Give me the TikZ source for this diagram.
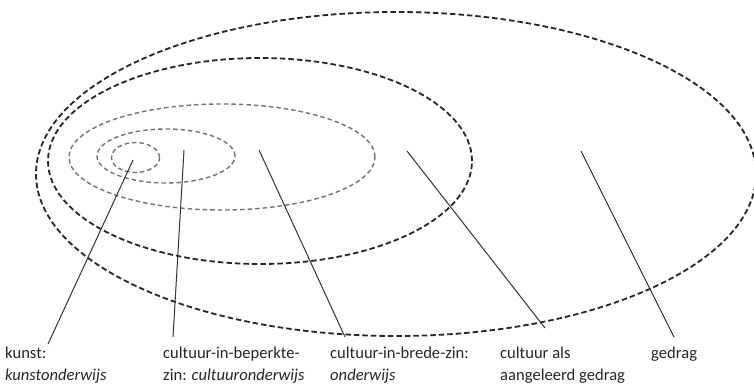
\documentclass[tikz,border=0pt]{standalone}
\usepackage{fontspec}
\setmainfont{Carlito}
\begin{document}
\begin{tikzpicture}[x=1pt,y=-1pt,
  outerring/.style={draw=black!85, line width=1.8pt, dash pattern=on 5.5pt off 3pt},
  innerring/.style={draw=black!55, line width=1.4pt, dash pattern=on 4.5pt off 3pt},
  pointer/.style={draw=black!80, line width=1pt},
  label/.style={anchor=north west, inner sep=0pt, align=left, font=\fontsize{16.6}{22}\selectfont, text=black!85}]
\useasboundingbox (0,0) rectangle (754,388);
\fill[white] (0,0) rectangle (754,388);
% rings
\draw[innerring] (135.5,157.5) ellipse [x radius=24pt, y radius=15pt];
\draw[innerring] (166,156) ellipse [x radius=69pt, y radius=27pt];
\draw[innerring] (222,157) ellipse [x radius=153pt, y radius=53pt];
\draw[outerring] (260,161) ellipse [x radius=212pt, y radius=103pt];
\draw[outerring] (396,174) ellipse [x radius=360pt, y radius=162pt];
% labels
\node[label] (kunst) at (5,347) {kunst:\\\textit{kunstonderwijs}};
\node[label] (beperkt) at (163,347) {cultuur-in-beperkte-\\zin: \textit{cultuuronderwijs}};
\node[label] (breed) at (330,347) {cultuur-in-brede-zin:\\\textit{onderwijs}};
\node[label] (aangeleerd) at (500,347) {cultuur als\\aangeleerd gedrag};
\node[label] (gedrag) at (651,347) {gedrag};
% pointer ends
\coordinate (p1a) at (133,160); \coordinate (p1b) at (48,344);
\coordinate (p2a) at (184,150); \coordinate (p2b) at (173,337);
\coordinate (p3a) at (259,150); \coordinate (p3b) at (345,337);
\coordinate (p4a) at (407,151); \coordinate (p4b) at (545,328);
\coordinate (p5a) at (581,151); \coordinate (p5b) at (674,337);
\draw[pointer] (p1a) -- (p1b);
\draw[pointer] (p2a) -- (p2b);
\draw[pointer] (p3a) -- (p3b);
\draw[pointer] (p4a) -- (p4b);
\draw[pointer] (p5a) -- (p5b);
\end{tikzpicture}
\end{document}
